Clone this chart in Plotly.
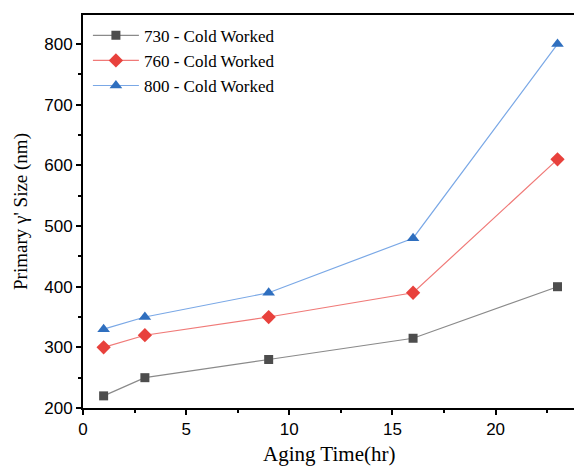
import plotly.graph_objects as go

time_hr = [1, 3, 9, 16, 23]
size_730 = [220, 250, 280, 315, 400]
size_760 = [300, 320, 350, 390, 610]
size_800 = [330, 350, 390, 480, 800]
names = ["730 - Cold Worked", "760 - Cold Worked", "800 - Cold Worked"]
x_title = "Aging Time(hr)"
y_title = "Primary γ' Size (nm)"

fig = go.Figure()
styles = [
    (size_730, "#8a8a8a", "#4d4d4d", "square", 9),
    (size_760, "#f07a78", "#e8413c", "diamond", 11),
    (size_800, "#7aa8e6", "#2f6fbf", "triangle-up", 11),
]
for name, (vals, lc, mc, sym, ms) in zip(names, styles):
    fig.add_trace(go.Scatter(
        x=time_hr, y=vals, name=name, mode="lines+markers",
        line=dict(color=lc, width=1.2),
        marker=dict(color=mc, symbol=sym, size=ms),
    ))

axis_common = dict(
    showgrid=False, zeroline=False, showline=True, linecolor="black", linewidth=2,
    ticks="outside", ticklen=5, tickwidth=1.5, tickcolor="black", automargin=False,
    tickfont=dict(family="Liberation Sans, Arial", size=17, color="black"),
)
fig.update_xaxes(
    range=[0, 23.8], dtick=5, tick0=0, mirror=True,
    minor=dict(ticks="outside", dtick=2.5, ticklen=3, tickwidth=1.5, tickcolor="black"),
    **axis_common,
)
fig.update_yaxes(
    range=[200, 848], dtick=100, tick0=200,
    minor=dict(ticks="outside", dtick=50, ticklen=3, tickwidth=1.5, tickcolor="black"),
    title=dict(text=y_title, font=dict(family="Liberation Serif, Times New Roman", size=19, color="black"), standoff=12),
    **axis_common,
)
fig.add_annotation(
    text=x_title, xref="paper", yref="paper", x=0.5, y=0, yshift=-46,
    xanchor="center", yanchor="middle", showarrow=False,
    font=dict(family="Liberation Serif, Times New Roman", size=21, color="black"),
)
fig.update_layout(
    width=574, height=467,
    margin=dict(l=83, r=0, t=15, b=59),
    plot_bgcolor="white", paper_bgcolor="white",
    showlegend=True,
    legend=dict(x=0.01, y=0.993, xanchor="left", yanchor="top",
                font=dict(family="Liberation Serif, Times New Roman", size=17, color="black"),
                bgcolor="rgba(0,0,0,0)", tracegroupgap=0, itemwidth=46),
)
fig.write_html("out.html")
